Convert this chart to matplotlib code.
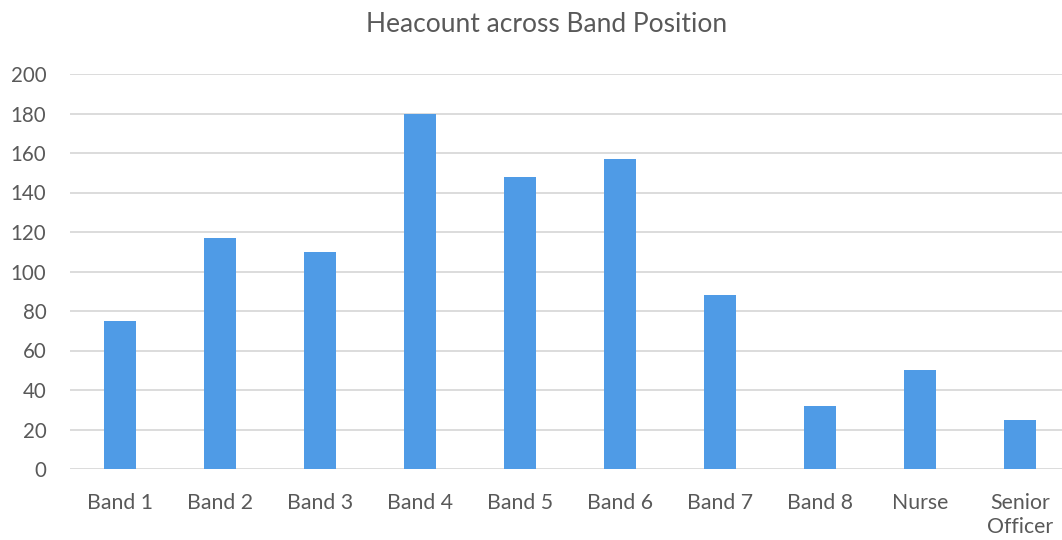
import matplotlib
matplotlib.use("Agg")
import matplotlib.pyplot as plt

categories = ["Band 1", "Band 2", "Band 3", "Band 4", "Band 5", "Band 6",
              "Band 7", "Band 8", "Nurse", "Senior\nOfficer"]
headcount = [75, 117, 110, 180, 148, 157, 88, 32, 50, 25]
y_ticks = [0, 20, 40, 60, 80, 100, 120, 140, 160, 180, 200]

plt.rcParams["font.family"] = ["Lato", "DejaVu Sans"]
text_color = "#595959"

fig = plt.figure(figsize=(10.62, 5.40), dpi=100)
ax = fig.add_axes([70 / 1062, 71 / 540, 1000 / 1062, 395 / 540])

x = range(len(categories))
ax.bar(x, headcount, width=0.32, color="#4f9be6", zorder=3)

ax.set_xlim(-0.5, len(categories) - 0.5)
ax.set_ylim(0, 200)
ax.set_yticks(y_ticks)
ax.set_xticks(list(x))
ax.set_xticklabels(categories, linespacing=1.3)

ax.grid(axis="y", color="#d9d9d9", linewidth=1.3, zorder=0)
for side in ["top", "right", "left", "bottom"]:
    ax.spines[side].set_visible(False)
ax.tick_params(axis="x", length=0, labelsize=15.3, colors=text_color, pad=17)
ax.tick_params(axis="y", length=0, labelsize=14.8, colors=text_color, pad=17)

fig.text(547 / 1062, 1 - 25 / 540, "Heacount across Band Position",
         ha="center", va="center", fontsize=19, color=text_color)

fig.savefig("out.png", dpi=100, facecolor="white")
